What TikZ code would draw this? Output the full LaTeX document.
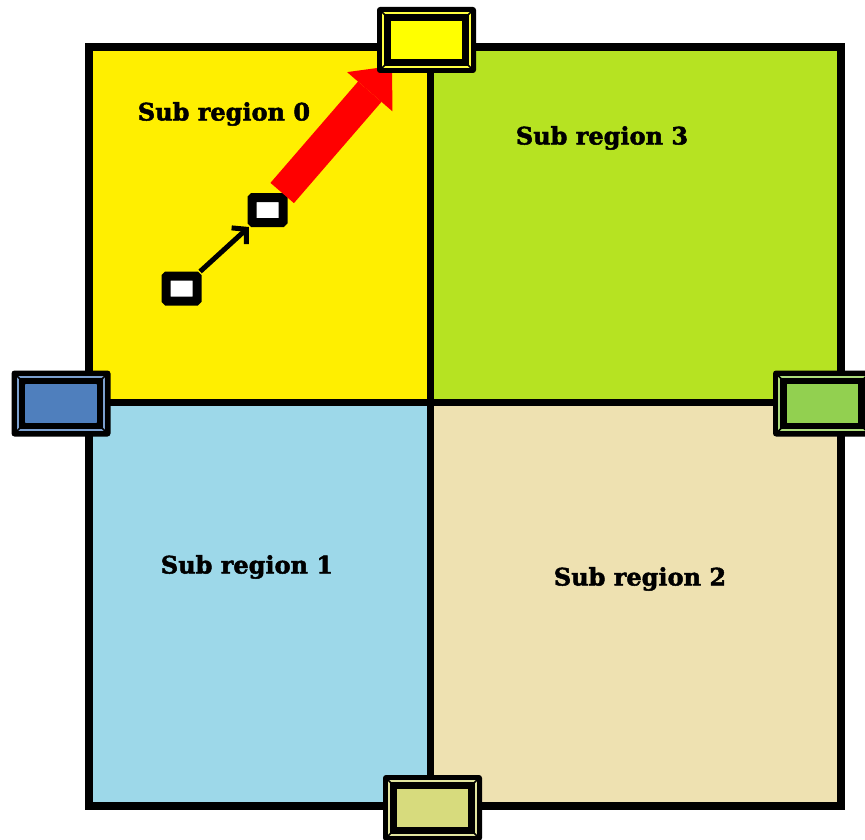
\documentclass[tikz,border=0pt]{standalone}
\usepackage{fontspec}
\setmainfont{DejaVu Serif}
\newfontfamily\lblfont[BoldFeatures={FakeBold=2}]{DejaVu Serif}
\usetikzlibrary{arrows.meta,calc}
\definecolor{ryel}{HTML}{FFEF00}
\definecolor{rgreen}{HTML}{B6E322}
\definecolor{rblue}{HTML}{9DD8E9}
\definecolor{rbeige}{HTML}{EEE1B1}
\definecolor{ptop}{HTML}{FFFF00}
\definecolor{pleft}{HTML}{4F7FBD}
\definecolor{pright}{HTML}{92D050}
\definecolor{pbottom}{HTML}{D7DB7D}
\newcommand\portdeco[2]{%
  \draw[#2!75!white, line width=2pt] ($(#1.south west)+(6.5,-6.5)$) rectangle ($(#1.north east)+(-6.5,6.5)$);
  \fill[#2] ($(#1.south west)+(14,-14)$) rectangle ($(#1.north east)+(-14,14)$);
  \draw[line width=1.5pt] ($(#1.south west)+(4,-4)$) -- ($(#1.south west)+(14,-14)$)
    ($(#1.south east)+(-4,-4)$) -- ($(#1.south east)+(-14,-14)$)
    ($(#1.north west)+(4,4)$) -- ($(#1.north west)+(14,14)$)
    ($(#1.north east)+(-4,4)$) -- ($(#1.north east)+(-14,14)$);
}
\begin{document}
\begin{tikzpicture}[x=1pt,y=-1pt,
  lbl/.style={font=\lblfont\bfseries\fontsize{24}{28}\selectfont, inner sep=0pt},
  port/.style={fill=black, rounded corners=3pt, minimum width=99pt, minimum height=66pt, inner sep=0pt},
  cell/.style={draw=black, line width=9pt, fill=white, rounded corners=1pt, minimum width=31pt, minimum height=25pt, inner sep=0pt},
  divider/.style={line width=7pt},
  frame/.style={line width=8pt}]
\useasboundingbox (0,0) rectangle (865,840);
% regions
\fill[ryel] (89,47) rectangle (430,402);
\fill[rgreen] (430,47) rectangle (841,402);
\fill[rblue] (89,402) rectangle (430,806);
\fill[rbeige] (430,402) rectangle (841,806);
\draw[divider] (430,47) -- (430,806) (89,402) -- (841,402);
\draw[frame] (89,47) rectangle (841,806);
% labels
\node[lbl] (l0) at (224,114) {Sub region 0};
\node[lbl] (l3) at (602,138) {Sub region 3};
\node[lbl] (l1) at (247,567) {Sub region 1};
\node[lbl] (l2) at (640,579) {Sub region 2};
% cells
\node[cell] (b1) at (181.5,288.5) {};
\node[cell] (b2) at (267.5,210) {};
\coordinate (tip) at (392,66);
\draw[red, line width=31pt, -{Triangle[length=34pt,width=60pt,line width=0pt]}] (b2) -- (tip);
\draw[line width=5pt, -{Straight Barb[length=10pt,width=22pt]}] (b1) -- (b2);
% ports
\node[port] (top) at (426.5,40) {};
\node[port] (left) at (61,403.5) {};
\node[port] (right) at (822.5,403.5) {};
\node[port] (bottom) at (432.5,808) {};
\portdeco{top}{ptop}
\portdeco{left}{pleft}
\portdeco{right}{pright}
\portdeco{bottom}{pbottom}
\end{tikzpicture}
\end{document}
